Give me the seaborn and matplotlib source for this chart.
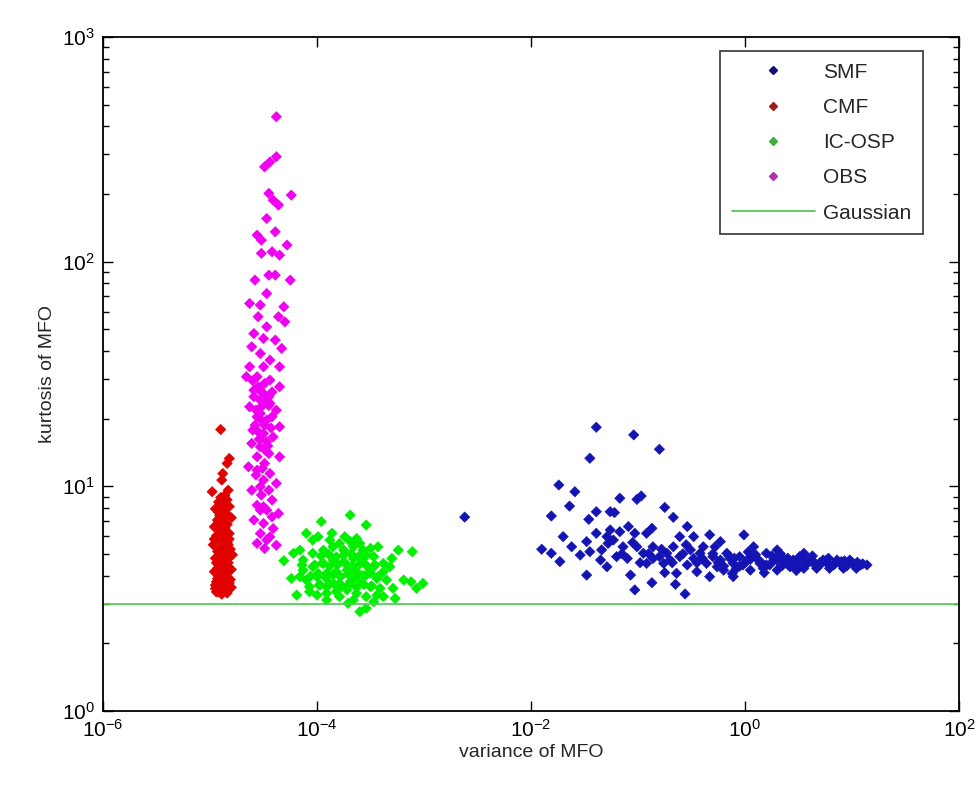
import numpy as np
import pandas as pd
import seaborn as sns
import matplotlib
matplotlib.use("Agg")
import matplotlib.pyplot as plt
from matplotlib.lines import Line2D
from matplotlib.ticker import LogLocator, NullLocator

# --- data (log10 of variance / kurtosis) -----------------------------------
smf_log_var = [
    -1.39, -1.04, -0.80, -1.45, -1.74, -1.59, -1.17, -1.01, -0.97, -1.64,
    -1.81, -1.39, -1.26, -1.22, -0.75, -0.67, -1.46, -1.70, -1.48, -1.39,
    -1.29, -1.23, -1.17, -1.09, -1.03, -0.92, -0.87, -0.54, -0.48, -0.33,
    -0.23, -0.01, -0.61, -1.90, -1.81, -1.73, -1.62, -1.54, -1.45, -1.34,
    -1.28, -1.20, -1.10, -1.01, -0.95, -0.86, -0.80, -0.73, -0.67, -0.61,
    -0.51, -0.42, -0.36, -0.30, -0.23, -0.17, -0.11, -0.05, 0.02, 0.08,
    0.14, 0.20, 0.27, 0.33, 0.39, 0.45, 0.51, 0.58, 0.64, 0.70,
    0.77, 0.83, 0.89, 0.95, 1.01, 1.08, 1.14, -1.48, -1.29, -1.07,
    -1.03, -0.87, -0.75, -0.65, -0.56, -0.64, -0.45, -0.33, -0.11, -0.26,
    -0.20, -0.14, -0.08, -0.02, 0.05, 0.11, 0.17, 0.23, 0.30, 0.36,
    0.42, 0.48, 0.55, 0.61, 0.67, 0.73, 0.79, 0.86, 0.92, 0.98,
    1.04, -0.86, -0.76, -0.70, -0.54, -0.48, -0.39, -0.28, 0.08, 0.30,
    0.55, -1.14, -1.26, -1.35, -0.92, -2.62,
    -0.25, -0.15, -0.05, 0.05, 0.15, 0.25, 0.35, 0.45, 0.55, 0.65,
    0.75, 0.85, 0.95, 1.05, -0.30, -0.20, -0.10, 0.00, 0.10, 0.20,
    0.30, 0.40, 0.50, 0.60, 0.70, 0.80, 0.90, 1.00, 1.10, -1.15,
    -0.98, -0.90, -0.78, -0.68, -0.58, -0.45, -0.40, -0.55, -1.05, -0.12,
    0.03, 0.18, 0.33, 0.48, 0.63, 0.78, 0.93,
]
smf_log_kurt = [
    1.263, 1.229, 1.165, 1.125, 1.006, 0.976, 0.947, 0.942, 0.957, 0.912,
    0.868, 0.887, 0.887, 0.883, 0.906, 0.862, 0.853, 0.776, 0.754, 0.791,
    0.776, 0.761, 0.798, 0.821, 0.791, 0.791, 0.813, 0.821, 0.776, 0.784,
    0.754, 0.784, 0.776, 0.720, 0.702, 0.665, 0.731, 0.694, 0.709, 0.717,
    0.746, 0.687, 0.679, 0.731, 0.702, 0.731, 0.687, 0.702, 0.731, 0.687,
    0.717, 0.702, 0.657, 0.687, 0.672, 0.702, 0.657, 0.687, 0.672, 0.694,
    0.657, 0.702, 0.672, 0.687, 0.657, 0.672, 0.687, 0.657, 0.665, 0.650,
    0.657, 0.650, 0.657, 0.650, 0.657, 0.650, 0.650, 0.605, 0.642, 0.605,
    0.539, 0.571, 0.616, 0.564, 0.521, 0.613, 0.620, 0.598, 0.598, 0.642,
    0.627, 0.679, 0.635, 0.650, 0.627, 0.679, 0.635, 0.650, 0.627, 0.679,
    0.642, 0.650, 0.635, 0.679, 0.635, 0.672, 0.635, 0.672, 0.635, 0.672,
    0.635, 0.679, 0.657, 0.672, 0.650, 0.679, 0.731, 0.731, 0.731, 0.717,
    0.702, 0.731, 0.806, 0.672, 0.657, 0.863,
    0.660, 0.690, 0.645, 0.675, 0.662, 0.690, 0.648, 0.668, 0.682, 0.652,
    0.668, 0.662, 0.645, 0.662, 0.700, 0.645, 0.680, 0.660, 0.695, 0.650,
    0.670, 0.680, 0.660, 0.665, 0.660, 0.645, 0.665, 0.660, 0.655, 0.700,
    0.660, 0.700, 0.720, 0.660, 0.700, 0.660, 0.680, 0.740, 0.750, 0.612,
    0.708, 0.615, 0.700, 0.625, 0.690, 0.680, 0.668,
]

cmf_log_var = [
    -4.90, -4.82, -4.84, -4.88, -4.89, -4.98, -4.83, -4.86, -4.90, -4.84,
    -4.92, -4.87, -4.82, -4.95, -4.89, -4.85, -4.91, -4.80, -4.93, -4.88,
    -4.84, -4.96, -4.90, -4.86, -4.82, -4.94, -4.88, -4.91, -4.84, -4.97,
    -4.87, -4.81, -4.93, -4.89, -4.85, -4.95, -4.90, -4.83, -4.92, -4.87,
    -4.80, -4.96, -4.89, -4.85, -4.93, -4.88, -4.82, -4.95, -4.90, -4.86,
    -4.92, -4.84, -4.89, -4.94, -4.80, -4.86, -4.91, -4.83, -4.88, -4.94,
    -4.86, -4.91, -4.83, -4.88, -4.92, -4.86, -4.89,
    -4.95, -4.81, -4.87, -4.93, -4.84, -4.90, -4.79, -4.96, -4.86, -4.92,
    -4.82, -4.88, -4.94, -4.85, -4.91,
]
cmf_log_kurt = [
    1.253, 1.124, 1.102, 1.057, 1.028, 0.976, 0.983, 0.96, 0.95, 0.94,
    0.93, 0.92, 0.91, 0.90, 0.89, 0.88, 0.87, 0.86, 0.85, 0.84,
    0.83, 0.82, 0.81, 0.80, 0.79, 0.78, 0.77, 0.76, 0.75, 0.74,
    0.73, 0.72, 0.71, 0.70, 0.69, 0.68, 0.67, 0.66, 0.65, 0.64,
    0.63, 0.62, 0.61, 0.60, 0.59, 0.58, 0.57, 0.56, 0.55, 0.54,
    0.53, 0.525, 0.52, 0.53, 0.55, 0.57, 0.60, 0.62, 0.65, 0.66,
    0.68, 0.72, 0.74, 0.79, 0.84, 0.86, 0.91,
    0.545, 0.585, 0.615, 0.635, 0.675, 0.705, 0.695, 0.765, 0.815, 0.885,
    0.765, 0.545, 0.575, 0.705, 0.805,
]

icosp_log_var = [
    -3.69, -3.96, -3.54, -4.10, -3.86, -3.74, -3.63, -3.99, -3.43, -4.22,
    -3.24, -3.11, -4.31, -3.30, -4.24, -4.19, -3.01, -3.12, -3.19, -3.07,
    -3.29, -3.38, -3.27, -3.71, -3.60, -3.54, -3.79, -4.07, -4.13, -4.04,
    -3.94, -3.85, -3.75, -3.66, -3.57, -3.47, -3.38, -4.13, -4.04, -3.94,
    -3.85, -3.75, -3.66, -3.57, -3.47, -3.38, -3.32, -4.10, -4.00, -3.91,
    -3.82, -3.72, -3.63, -3.54, -3.44, -3.35, -4.07, -3.97, -3.88, -3.79,
    -3.69, -3.60, -3.50, -3.41, -4.00, -3.91, -3.82, -3.72, -3.63, -3.54,
    -3.44, -4.14, -4.16, -3.88, -3.79, -3.69, -3.60, -3.50, -3.91, -3.66,
    -3.47, -4.04, -4.16,
    -4.06, -3.99, -3.92, -3.85, -3.78, -3.71, -3.64, -3.57, -3.50, -3.43,
    -4.02, -3.95, -3.88, -3.81, -3.74, -3.67, -3.60, -3.53, -3.46, -3.98,
    -3.91, -3.84, -3.77, -3.70, -3.63, -3.56, -3.49, -3.96, -3.89, -3.82,
    -3.75, -3.68, -3.61, -3.54,
]
icosp_log_kurt = [
    0.872, 0.843, 0.828, 0.791, 0.791, 0.776, 0.768, 0.776, 0.731, 0.702,
    0.716, 0.709, 0.669, 0.679, 0.590, 0.516, 0.568, 0.575, 0.583, 0.546,
    0.546, 0.509, 0.501, 0.479, 0.442, 0.457, 0.509, 0.531, 0.672, 0.702,
    0.716, 0.731, 0.716, 0.731, 0.716, 0.687, 0.657, 0.627, 0.642, 0.657,
    0.672, 0.664, 0.679, 0.664, 0.642, 0.620, 0.642, 0.583, 0.598, 0.613,
    0.620, 0.627, 0.620, 0.605, 0.590, 0.583, 0.553, 0.561, 0.568, 0.568,
    0.575, 0.568, 0.553, 0.546, 0.516, 0.524, 0.531, 0.539, 0.524, 0.509,
    0.516, 0.650, 0.598, 0.761, 0.746, 0.754, 0.746, 0.724, 0.494, 0.494,
    0.486, 0.761, 0.716,
    0.600, 0.612, 0.594, 0.605, 0.598, 0.610, 0.596, 0.603, 0.614, 0.598,
    0.650, 0.658, 0.645, 0.652, 0.660, 0.647, 0.655, 0.643, 0.651, 0.560,
    0.552, 0.565, 0.556, 0.562, 0.550, 0.563, 0.557, 0.690, 0.698, 0.686,
    0.694, 0.700, 0.688, 0.692,
]

obs_log_var = [
    -4.38, -4.38, -4.44, -4.49, -4.45, -4.24, -4.41, -4.36, -4.47, -4.39,
    -4.56, -4.52, -4.28, -4.42, -4.35, -4.52, -4.45, -4.39, -4.58, -4.25,
    -4.47, -4.63, -4.53, -4.31, -4.55, -4.36, -4.47, -4.30, -4.59, -4.50,
    -4.39, -4.61, -4.33, -4.53, -4.44, -4.63, -4.50, -4.35, -4.56, -4.44,
    -4.66, -4.35, -4.59, -4.50, -4.53, -4.44, -4.63, -4.38, -4.53, -4.47,
    -4.58, -4.35, -4.50, -4.41, -4.61, -4.53, -4.45, -4.35, -4.64, -4.56,
    -4.44, -4.50, -4.38, -4.61, -4.52, -4.42, -4.56, -4.47, -4.36, -4.59,
    -4.50, -4.41, -4.53, -4.44, -4.56, -4.38, -4.49, -4.55, -4.49, -4.59,
    -4.45, -4.52, -4.56, -4.42, -4.49, -4.55, -4.47, -4.56, -4.49, -4.53,
    -4.45, -4.50, -4.42, -4.53, -4.47,
    -4.60, -4.54, -4.48, -4.42, -4.57, -4.51, -4.45, -4.60, -4.54, -4.48,
    -4.43, -4.57, -4.51, -4.46,
]
obs_log_kurt = [
    2.645, 2.467, 2.444, 2.422, 2.304, 2.296, 2.274, 2.252, 2.192, 2.133,
    2.118, 2.096, 2.074, 2.044, 2.029, 2.037, 1.940, 1.940, 1.918, 1.918,
    1.858, 1.814, 1.807, 1.799, 1.755, 1.755, 1.710, 1.732, 1.680, 1.658,
    1.651, 1.621, 1.614, 1.591, 1.562, 1.532, 1.532, 1.532, 1.488, 1.473,
    1.488, 1.443, 1.428, 1.413, 1.384, 1.369, 1.354, 1.339, 1.324, 1.295,
    1.272, 1.265, 1.235, 1.220, 1.191, 1.176, 1.146, 1.131, 1.087, 1.072,
    1.057, 1.028, 1.013, 0.983, 0.961, 0.939, 0.916, 0.894, 0.879, 0.850,
    0.835, 0.812, 0.790, 0.775, 0.746, 0.738, 0.723, 1.443, 1.458, 1.399,
    1.399, 1.354, 1.310, 1.310, 1.272, 1.243, 1.199, 1.132, 1.102, 0.998,
    0.983, 0.909, 0.864, 0.894, 0.761,
    1.470, 1.430, 1.380, 1.420, 1.340, 1.290, 1.360, 1.250, 1.210, 1.160,
    1.260, 1.050, 1.080, 1.180,
]

GAUSSIAN_KURT = 3.0

methods = ["SMF", "CMF", "IC-OSP", "OBS"]
colors = {"SMF": "#1414b4", "CMF": "#e00000", "IC-OSP": "#00f000", "OBS": "#f000f0"}
legend_colors = {"SMF": "#101070", "CMF": "#a02020", "IC-OSP": "#40b040", "OBS": "#b030b0"}

frames = []
for name, lv, lk in [("SMF", smf_log_var, smf_log_kurt),
                     ("CMF", cmf_log_var, cmf_log_kurt),
                     ("IC-OSP", icosp_log_var, icosp_log_kurt),
                     ("OBS", obs_log_var, obs_log_kurt)]:
    frames.append(pd.DataFrame({"var": 10 ** np.array(lv),
                                "kurt": 10 ** np.array(lk),
                                "method": name}))
df = pd.concat(frames, ignore_index=True)

# --- plot -------------------------------------------------------------------
sns.set_style("ticks")
plt.rcParams["font.family"] = ["Liberation Sans", "DejaVu Sans"]
plt.rcParams["mathtext.fontset"] = "custom"
plt.rcParams["mathtext.rm"] = "Liberation Sans"
plt.rcParams["axes.unicode_minus"] = False

fig = plt.figure(figsize=(9.8, 7.87), dpi=100)
ax = fig.add_axes([103 / 980, 1 - 711 / 787, 856 / 980, 674 / 787])

sns.scatterplot(data=df, x="var", y="kurt", hue="method", hue_order=methods,
                palette=colors, marker="D", s=28, linewidth=0.4,
                edgecolor="face", legend=False, ax=ax)
ax.axhline(GAUSSIAN_KURT, color="#55cc55", lw=1.3)

ax.set_xscale("log")
ax.set_yscale("log")
ax.set_xlim(1e-6, 1e2)
ax.set_ylim(1, 1e3)
ax.set_xticks([1e-6, 1e-4, 1e-2, 1e0, 1e2])
ax.xaxis.set_minor_locator(NullLocator())
ax.yaxis.set_major_locator(LogLocator(base=10, numticks=10))
ax.yaxis.set_minor_locator(LogLocator(base=10, subs=np.arange(2, 10), numticks=10))

ax.tick_params(which="both", direction="in", top=True, right=True,
               labelsize=15, colors="black", pad=6)
ax.tick_params(which="major", length=7, width=1)
ax.tick_params(which="minor", length=4, width=1)
for sp in ax.spines.values():
    sp.set_linewidth(1.3)
    sp.set_color("black")

ax.set_xlabel("variance of MFO", fontsize=14, labelpad=2)
ax.set_ylabel("kurtosis of MFO", fontsize=14, labelpad=4)

handles = [Line2D([], [], ls="none", marker="D", ms=4, color=legend_colors[m])
           for m in methods]
handles.append(Line2D([], [], color="#55cc55", lw=1.3))
leg = ax.legend(handles, methods + ["Gaussian"], loc="upper right",
                bbox_to_anchor=(0.958, 0.979), fontsize=15, frameon=True,
                fancybox=False, handlelength=4.0, handletextpad=0.4,
                labelspacing=0.78, borderpad=0.55, borderaxespad=0)
leg.get_frame().set_edgecolor("black")
leg.get_frame().set_linewidth(1.2)

fig.savefig("out.png", dpi=100)
